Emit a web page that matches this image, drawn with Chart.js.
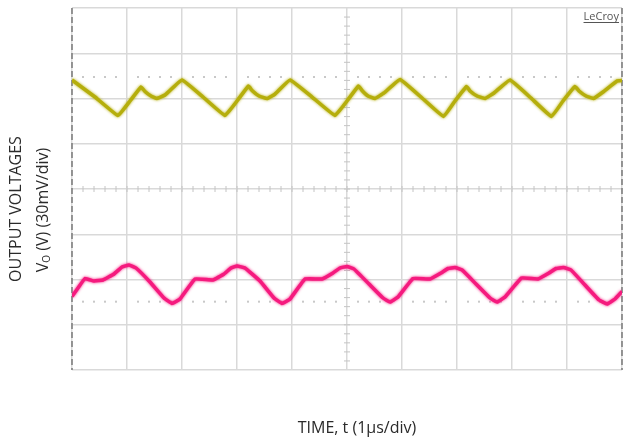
<!DOCTYPE html>
<html>
<head>
<meta charset="utf-8">
<script src="https://cdn.jsdelivr.net/npm/chart.js@4/dist/chart.umd.min.js"></script>
<style>
  html, body { margin: 0; padding: 0; background: #fff; }
  #wrap { position: relative; width: 625px; height: 439px; font-family: "Open Sans", sans-serif; color: #2a2a2a; }
  #scope { position: absolute; left: 0; top: 0; }
  .lbl { position: absolute; white-space: nowrap; font-size: 16px; line-height: 1; }
  .rot { transform: translate(-50%, -50%) rotate(-90deg); }
  .lbl sub { font-size: 10px; vertical-align: -2px; }
</style>
</head>
<body>
<div id="wrap">
  <canvas id="scope" width="625" height="439"></canvas>
  <div class="lbl rot" id="ylab1" style="left:15px; top:209px;">OUTPUT VOLTAGES</div>
  <div class="lbl rot" id="ylab2" style="left:42px; top:210px;">V<sub>O</sub> (V) (30mV/div)</div>
  <div class="lbl" id="xlab" style="left:357px; top:427px; transform: translate(-50%, -50%);">TIME, t (1µs/div)</div>
</div>
<script>
// time in µs (1 µs/div), voltage in divisions (30 mV/div), screen centre = 0
const timeCh1 = [0.000, 0.418, 0.836, 1.055, 1.255, 1.327, 1.436, 1.545, 1.691, 2.000,
                 2.382, 2.782, 3.000, 3.209, 3.273, 3.400, 3.545, 3.691, 3.964,
                 4.364, 4.782, 5.000, 5.209, 5.273, 5.382, 5.509, 5.673, 5.964,
                 6.364, 6.755, 6.964, 7.173, 7.236, 7.364, 7.509, 7.673, 7.964,
                 8.345, 8.718, 8.927, 9.145, 9.218, 9.345, 9.482, 9.655, 9.909, 10.000];
const voltCh1 = [2.409, 2.033, 1.624, 1.945, 2.254, 2.155, 2.055, 2.000, 2.077, 2.409,
                 2.033, 1.624, 1.945, 2.276, 2.177, 2.055, 2.000, 2.099, 2.409,
                 2.033, 1.624, 1.945, 2.276, 2.177, 2.055, 2.000, 2.122, 2.420,
                 2.011, 1.602, 1.945, 2.265, 2.166, 2.055, 2.000, 2.122, 2.409,
                 2.011, 1.602, 1.945, 2.265, 2.166, 2.055, 2.000, 2.144, 2.387, 2.398];

const timeCh2 = [0.000, 0.109, 0.236, 0.400, 0.564, 0.764, 0.909, 1.036, 1.164, 1.418, 1.673,
                 1.818, 1.964, 2.236, 2.564, 2.764, 2.891, 3.000, 3.145, 3.418, 3.673,
                 3.818, 3.964, 4.236, 4.545, 4.745, 4.873, 5.000, 5.127, 5.400, 5.655,
                 5.782, 5.927, 6.200, 6.509, 6.709, 6.836, 6.964, 7.091, 7.345, 7.600,
                 7.727, 7.873, 8.173, 8.473, 8.673, 8.800, 8.936, 9.073, 9.327, 9.582,
                 9.727, 9.873, 10.000];
const voltCh2 = [-2.376, -2.188, -1.978, -2.033, -2.011, -1.878, -1.724, -1.680, -1.746, -2.055, -2.409,
                 -2.530, -2.431, -1.989, -2.011, -1.878, -1.746, -1.702, -1.746, -2.033, -2.409,
                 -2.530, -2.431, -1.989, -1.989, -1.856, -1.746, -1.713, -1.768, -2.099, -2.409,
                 -2.497, -2.387, -1.978, -1.989, -1.856, -1.757, -1.735, -1.790, -2.099, -2.409,
                 -2.497, -2.387, -1.967, -1.989, -1.856, -1.757, -1.735, -1.790, -2.122, -2.453,
                 -2.541, -2.431, -2.265];

// dotted level markers for each channel
const levelMarks = [2.475, -2.49];

const toPoints = (ts, vs) => ts.map((t, i) => ({ x: t, y: vs[i] }));

// graticule extras: dashed side edges, centre-line ticks, dotted level lines
const graticule = {
  id: 'graticule',
  beforeDatasetsDraw(chart) {
    const { ctx, chartArea: a, scales: { x, y } } = chart;
    ctx.save();
    ctx.strokeStyle = '#c4c4c4';
    ctx.lineWidth = 1;
    const cx = x.getPixelForValue(5), cy = y.getPixelForValue(0);
    for (let i = 1; i < 50; i++) {
      const px = x.getPixelForValue(i * 0.2);
      ctx.beginPath(); ctx.moveTo(px, cy - 3); ctx.lineTo(px, cy + 3); ctx.stroke();
    }
    for (let i = 1; i < 40; i++) {
      const py = y.getPixelForValue(-4 + i * 0.2);
      ctx.beginPath(); ctx.moveTo(cx - 3, py); ctx.lineTo(cx + 3, py); ctx.stroke();
    }
    ctx.fillStyle = '#c8c8c8';
    levelMarks.forEach(v => {
      const py = y.getPixelForValue(v);
      for (let i = 1; i < 50; i++) {
        if (i % 5 === 0) continue;
        ctx.fillRect(x.getPixelForValue(i * 0.2) - 1, py - 1, 2, 2);
      }
    });
    ctx.strokeStyle = '#7a7a7a';
    ctx.lineWidth = 1.5;
    ctx.setLineDash([6, 3]);
    [a.left, a.right].forEach(px => {
      ctx.beginPath(); ctx.moveTo(px, a.top); ctx.lineTo(px, a.bottom); ctx.stroke();
    });
    ctx.restore();
  },
  beforeDatasetDraw(chart, args) {
    const ds = chart.data.datasets[args.index];
    chart.ctx.save();
    chart.ctx.shadowColor = ds.borderColor;
    chart.ctx.shadowBlur = 3;
  },
  afterDatasetDraw(chart) {
    chart.ctx.restore();
  },
  afterDraw(chart) {
    const { ctx, chartArea: a } = chart;
    ctx.save();
    ctx.font = '11px "Open Sans", sans-serif';
    ctx.fillStyle = '#555';
    ctx.textAlign = 'right';
    ctx.textBaseline = 'alphabetic';
    const txt = 'LeCroy';
    ctx.fillText(txt, a.right - 3, a.top + 12);
    const w = ctx.measureText(txt).width;
    ctx.fillRect(a.right - 3 - w, a.top + 14, w, 1);
    ctx.restore();
  }
};

new Chart(document.getElementById('scope'), {
  type: 'line',
  data: {
    datasets: [
      { data: toPoints(timeCh1, voltCh1), borderColor: '#b5ae0c', borderWidth: 3.5 },
      { data: toPoints(timeCh2, voltCh2), borderColor: '#f51a7e', borderWidth: 3.5 }
    ]
  },
  options: {
    responsive: false,
    animation: false,
    layout: { padding: { left: 72, top: 8, right: 3, bottom: 69 } },
    elements: { point: { radius: 0 }, line: { tension: 0.08, fill: false } },
    plugins: { legend: { display: false }, tooltip: { enabled: false } },
    scales: {
      x: {
        type: 'linear', min: 0, max: 10,
        ticks: { display: false, stepSize: 1 },
        grid: { color: '#d9d9d9', lineWidth: 1.5, drawTicks: false },
        border: { display: false }
      },
      y: {
        type: 'linear', min: -4, max: 4,
        ticks: { display: false, stepSize: 1 },
        grid: { color: '#d9d9d9', lineWidth: 1.5, drawTicks: false },
        border: { display: false }
      }
    }
  },
  plugins: [graticule]
});
</script>
</body>
</html>
